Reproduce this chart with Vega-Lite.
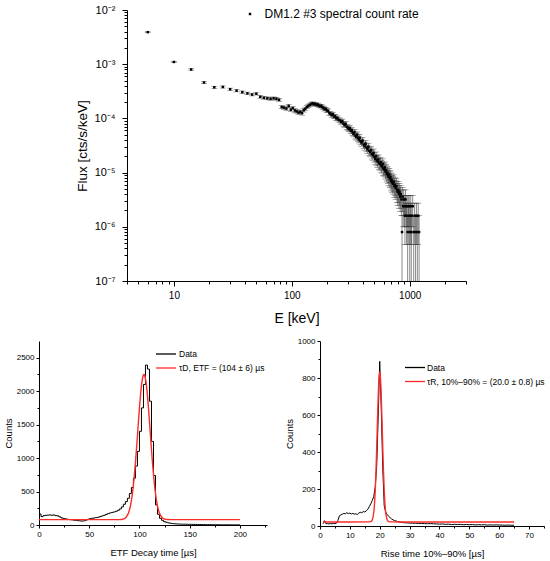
{
"$schema":"https://vega.github.io/schema/vega-lite/v6.json",
"padding":{"left":3,"top":4,"right":3,"bottom":3},
"config":{"font":"Liberation Sans","view":{"stroke":null},
"axis":{"domainColor":"black","tickColor":"black","labelColor":"black","titleColor":"black","grid":false,"titleFontWeight":"normal","labelFlush":false,"labelOverlap":false,"domainWidth":1,"tickWidth":1,"labelFont":"Liberation Sans","titleFont":"Liberation Sans"},
"legend":{"labelColor":"black","padding":0,"labelFont":"Liberation Sans","labelLimit":400}},
"spacing":12,
"resolve":{"scale":{"color":"independent"},"legend":{"color":"independent"}},
"vconcat":[
{"hconcat":[
{"width":16,"height":10,"data":{"values":[]},"mark":{"type":"point"}},
{"width":339,"height":271,"data":{"name":"spec"},
"resolve":{"scale":{"x":"independent","y":"independent"},"axis":{"x":"independent","y":"independent"}},
"layer":[
{"mark":{"type":"rule","color":"#3a3a3a","strokeWidth":0.6,"clip":true},
"encoding":{
"x":{"field":"E","type":"quantitative","scale":{"type":"log","domain":[4,3000],"nice":false},"axis":{"orient":"bottom","values":[10,100,1000],"format":"d","tickSize":5,"labelPadding":4,"labelFontSize":10,"title":"E [keV]","titleFontSize":14,"titlePadding":11}},
"y":{"field":"lo","type":"quantitative","scale":{"type":"log","domain":[1e-7,1e-2],"nice":false},"axis":{"orient":"left","values":[1e-7,1e-6,1e-5,1e-4,1e-3,1e-2],"labelExpr":"'10' + ['⁻²','⁻³','⁻⁴','⁻⁵','⁻⁶','⁻⁷'][-2 - round(log(datum.value)/LN10)]","tickSize":5,"labelPadding":7,"labelFontSize":11,"title":"Flux [cts/s/keV]","titleFontSize":13.5,"titlePadding":5}},
"y2":{"field":"hi"}}},
{"mark":{"type":"tick","orient":"horizontal","size":6,"thickness":0.6,"color":"#3a3a3a","clip":true},
"encoding":{"x":{"field":"E","type":"quantitative","scale":{"type":"log","domain":[4,3000],"nice":false},"axis":null},"y":{"field":"hi","type":"quantitative","scale":{"type":"log","domain":[1e-7,1e-2],"nice":false},"axis":null}}},
{"mark":{"type":"tick","orient":"horizontal","size":6,"thickness":0.6,"color":"#3a3a3a","clip":true},
"encoding":{"x":{"field":"E","type":"quantitative","scale":{"type":"log","domain":[4,3000],"nice":false},"axis":null},"y":{"field":"lo","type":"quantitative","scale":{"type":"log","domain":[1e-7,1e-2],"nice":false},"axis":null}}},
{"mark":{"type":"point","shape":"square","filled":true,"size":6,"opacity":1,"clip":true},
"encoding":{
"x":{"field":"E","type":"quantitative","scale":{"type":"log","domain":[4,3000],"nice":false},"axis":{"orient":"bottom","values":[4,5,6,7,8,9,20,30,40,50,60,70,80,90,200,300,400,500,600,700,800,900,2000,3000],"labels":false,"domain":false,"tickSize":3,"title":null}},
"y":{"field":"F","type":"quantitative","scale":{"type":"log","domain":[1e-7,1e-2],"nice":false},"axis":{"orient":"left","values":[2e-7,3e-7,4e-7,5e-7,6e-7,7e-7,8e-7,9e-7,2e-6,3e-6,4e-6,5e-6,6e-6,7e-6,8e-6,9e-6,2e-5,3e-5,4e-5,5e-5,6e-5,7e-5,8e-5,9e-5,2e-4,3e-4,4e-4,5e-4,6e-4,7e-4,8e-4,9e-4,2e-3,3e-3,4e-3,5e-3,6e-3,7e-3,8e-3,9e-3],"labels":false,"domain":false,"tickSize":3,"title":null}},
"color":{"datum":"DM1.2 #3 spectral count rate","scale":{"range":["black"]},"legend":{"orient":"none","legendX":117,"legendY":-2,"title":null,"labelFontSize":12,"symbolSize":6,"labelOffset":8.5}}}}
]}
],"spacing":20,"resolve":{"scale":{"color":"independent"},"legend":{"color":"independent"}}},
{"hconcat":[
{"width":228,"height":184,
"resolve":{"scale":{"x":"independent","y":"independent"},"axis":{"x":"independent","y":"independent"}},
"layer":[
{"data":{"name":"etf"},"mark":{"type":"line","interpolate":"step-after","strokeWidth":1,"clip":true},
"encoding":{
"x":{"field":"t","type":"quantitative","scale":{"domain":[0,227],"nice":false,"zero":false},"axis":{"orient":"bottom","values":[0,50,100,150,200],"format":"d","tickSize":3,"labelPadding":2,"labelFontSize":8,"title":"ETF Decay time [µs]","titleFontSize":9.5,"titlePadding":9}},
"y":{"field":"n","type":"quantitative","scale":{"domain":[0,2750],"nice":false},"axis":{"orient":"left","values":[0,500,1000,1500,2000,2500],"format":"d","tickSize":3,"labelPadding":2,"labelFontSize":8,"title":"Counts","titleFontSize":9.5,"titlePadding":3}},
"color":{"datum":"Data","scale":{"domain":["Data","τD, ETF = (104 ± 6) µs"],"range":["black","#ff2a2a"]},"legend":{"orient":"none","legendX":119,"legendY":5,"title":null,"labelFontSize":8.5,"symbolType":"M-1.43,0H1.43","symbolSize":196,"symbolStrokeWidth":1.3,"labelOffset":5,"rowPadding":1}}}},
{"data":{"name":"etffit"},"mark":{"type":"line","interpolate":"monotone","strokeWidth":1.4,"clip":true},
"encoding":{
"x":{"field":"t","type":"quantitative","scale":{"domain":[0,227],"nice":false,"zero":false},"axis":{"orient":"bottom","values":[25,75,125,175,225],"labels":false,"domain":false,"tickSize":2,"title":null}},
"y":{"field":"n","type":"quantitative","scale":{"domain":[0,2750],"nice":false},"axis":{"orient":"left","values":[250,750,1250,1750,2250],"labels":false,"domain":false,"tickSize":2,"title":null}},
"color":{"datum":"τD, ETF = (104 ± 6) µs"}}}
]},
{"width":224,"height":185,
"resolve":{"scale":{"x":"independent","y":"independent"},"axis":{"x":"independent","y":"independent"}},
"layer":[
{"data":{"name":"rise"},"mark":{"type":"line","strokeWidth":1,"clip":true},
"encoding":{
"x":{"field":"t","type":"quantitative","scale":{"domain":[0,75],"nice":false,"zero":false},"axis":{"orient":"bottom","values":[0,10,20,30,40,50,60,70],"format":"d","tickSize":3,"labelPadding":2,"labelFontSize":8,"title":"Rise time 10%–90% [µs]","titleFontSize":9.5,"titlePadding":9}},
"y":{"field":"n","type":"quantitative","scale":{"domain":[0,1000],"nice":false},"axis":{"orient":"left","values":[0,200,400,600,800,1000],"format":"d","tickSize":3,"labelPadding":2,"labelFontSize":8,"title":"Counts","titleFontSize":9.5,"titlePadding":3}},
"color":{"datum":"Data","scale":{"domain":["Data","τR, 10%–90% = (20.0 ± 0.8) µs"],"range":["black","#ff2a2a"]},"legend":{"orient":"none","legendX":87,"legendY":18.5,"title":null,"labelFontSize":8.5,"symbolType":"M-1.43,0H1.43","symbolSize":196,"symbolStrokeWidth":1.3,"labelOffset":4,"rowPadding":1}}}},
{"data":{"name":"risefit"},"mark":{"type":"line","interpolate":"monotone","strokeWidth":1.4,"clip":true},
"encoding":{
"x":{"field":"t","type":"quantitative","scale":{"domain":[0,75],"nice":false,"zero":false},"axis":{"orient":"bottom","values":[5,15,25,35,45,55,65,75],"labels":false,"domain":false,"tickSize":2,"title":null}},
"y":{"field":"n","type":"quantitative","scale":{"domain":[0,1000],"nice":false},"axis":{"orient":"left","values":[100,300,500,700,900],"labels":false,"domain":false,"tickSize":2,"title":null}},
"color":{"datum":"τR, 10%–90% = (20.0 ± 0.8) µs"}}}
]}
],"spacing":17,"resolve":{"scale":{"color":"independent"},"legend":{"color":"independent"}}}
],
"datasets":{
"spec":[
{"E":6,"F":3.9e-3,"lo":3.84e-3,"hi":3.96e-3},
{"E":10,"F":1.1e-3,"lo":1.07e-3,"hi":1.13e-3},
{"E":14,"F":8.0e-4,"lo":7.75e-4,"hi":8.25e-4},
{"E":18,"F":4.6e-4,"lo":4.41e-4,"hi":4.79e-4},
{"E":22,"F":3.75e-4,"lo":3.58e-4,"hi":3.92e-4},
{"E":26,"F":3.8e-4,"lo":3.63e-4,"hi":3.97e-4},
{"E":30,"F":3.45e-4,"lo":3.28e-4,"hi":3.62e-4},
{"E":34,"F":3.25e-4,"lo":3.09e-4,"hi":3.41e-4},
{"E":38,"F":3.05e-4,"lo":2.89e-4,"hi":3.21e-4},
{"E":42,"F":2.9e-4,"lo":2.75e-4,"hi":3.05e-4},
{"E":46,"F":2.75e-4,"lo":2.6e-4,"hi":2.9e-4},
{"E":50,"F":2.85e-4,"lo":2.7e-4,"hi":3.0e-4},
{"E":54,"F":2.5e-4,"lo":2.36e-4,"hi":2.64e-4},
{"E":58,"F":2.4e-4,"lo":2.26e-4,"hi":2.54e-4},
{"E":62,"F":2.35e-4,"lo":2.21e-4,"hi":2.49e-4},
{"E":66,"F":2.3e-4,"lo":2.16e-4,"hi":2.44e-4},
{"E":70,"F":2.35e-4,"lo":2.21e-4,"hi":2.49e-4},
{"E":74,"F":2.3e-4,"lo":2.16e-4,"hi":2.44e-4},
{"E":78,"F":2.2e-4,"lo":2.07e-4,"hi":2.33e-4},
{"E":82,"F":1.62e-4,"lo":1.51e-4,"hi":1.73e-4},
{"E":86,"F":1.58e-4,"lo":1.47e-4,"hi":1.69e-4},
{"E":90,"F":1.52e-4,"lo":1.41e-4,"hi":1.63e-4},
{"E":94,"F":1.7e-4,"lo":1.58e-4,"hi":1.82e-4},
{"E":98,"F":1.45e-4,"lo":1.34e-4,"hi":1.56e-4},
{"E":102,"F":1.55e-4,"lo":1.44e-4,"hi":1.66e-4},
{"E":106,"F":1.4e-4,"lo":1.29e-4,"hi":1.51e-4},
{"E":110,"F":1.35e-4,"lo":1.25e-4,"hi":1.45e-4},
{"E":114,"F":1.28e-4,"lo":1.18e-4,"hi":1.38e-4},
{"E":118,"F":1.32e-4,"lo":1.22e-4,"hi":1.42e-4},
{"E":122,"F":1.25e-4,"lo":1.15e-4,"hi":1.35e-4},
{"E":126,"F":1.42e-4,"lo":1.31e-4,"hi":1.53e-4},
{"E":130,"F":1.5e-4,"lo":1.39e-4,"hi":1.61e-4},
{"E":134,"F":1.62e-4,"lo":1.51e-4,"hi":1.73e-4},
{"E":138,"F":1.7e-4,"lo":1.58e-4,"hi":1.82e-4},
{"E":142,"F":1.78e-4,"lo":1.66e-4,"hi":1.9e-4},
{"E":146,"F":1.85e-4,"lo":1.73e-4,"hi":1.97e-4},
{"E":150,"F":1.9e-4,"lo":1.78e-4,"hi":2.02e-4},
{"E":154,"F":1.82e-4,"lo":1.7e-4,"hi":1.94e-4},
{"E":158,"F":1.86e-4,"lo":1.74e-4,"hi":1.98e-4},
{"E":162,"F":1.78e-4,"lo":1.66e-4,"hi":1.9e-4},
{"E":166,"F":1.8e-4,"lo":1.68e-4,"hi":1.92e-4},
{"E":170,"F":1.72e-4,"lo":1.6e-4,"hi":1.84e-4},
{"E":174,"F":1.68e-4,"lo":1.56e-4,"hi":1.8e-4},
{"E":178,"F":1.7e-4,"lo":1.58e-4,"hi":1.82e-4},
{"E":182,"F":1.6e-4,"lo":1.49e-4,"hi":1.71e-4},
{"E":186,"F":1.55e-4,"lo":1.44e-4,"hi":1.66e-4},
{"E":190,"F":1.48e-4,"lo":1.37e-4,"hi":1.59e-4},
{"E":194,"F":1.5e-4,"lo":1.39e-4,"hi":1.61e-4},
{"E":198,"F":1.4e-4,"lo":1.29e-4,"hi":1.51e-4},
{"E":203,"F":1.38e-4,"lo":1.28e-4,"hi":1.49e-4},
{"E":208,"F":1.25e-4,"lo":1.15e-4,"hi":1.35e-4},
{"E":213,"F":1.22e-4,"lo":1.12e-4,"hi":1.32e-4},
{"E":218,"F":1.15e-4,"lo":1.05e-4,"hi":1.25e-4},
{"E":223,"F":1.2e-4,"lo":1.1e-4,"hi":1.3e-4},
{"E":228,"F":1.08e-4,"lo":9.9e-5,"hi":1.17e-4},
{"E":233,"F":1.1e-4,"lo":1.01e-4,"hi":1.19e-4},
{"E":238,"F":1.0e-4,"lo":9.1e-5,"hi":1.09e-4},
{"E":243,"F":1.02e-4,"lo":9.3e-5,"hi":1.11e-4},
{"E":248,"F":9.5e-5,"lo":8.6e-5,"hi":1.04e-4},
{"E":256,"F":9.2e-5,"lo":8.3e-5,"hi":1.01e-4},
{"E":262,"F":8.6e-5,"lo":7.8e-5,"hi":9.4e-5},
{"E":268,"F":8.9e-5,"lo":8.1e-5,"hi":9.7e-5},
{"E":274,"F":8.0e-5,"lo":7.2e-5,"hi":8.8e-5},
{"E":280,"F":7.6e-5,"lo":6.8e-5,"hi":8.4e-5},
{"E":286,"F":7.9e-5,"lo":7.1e-5,"hi":8.7e-5},
{"E":292,"F":7.0e-5,"lo":6.25e-5,"hi":7.75e-5},
{"E":298,"F":6.8e-5,"lo":6.06e-5,"hi":7.54e-5},
{"E":304,"F":6.4e-5,"lo":5.68e-5,"hi":7.12e-5},
{"E":310,"F":6.6e-5,"lo":5.87e-5,"hi":7.33e-5},
{"E":316,"F":5.9e-5,"lo":5.21e-5,"hi":6.59e-5},
{"E":322,"F":6.1e-5,"lo":5.4e-5,"hi":6.8e-5},
{"E":328,"F":5.5e-5,"lo":4.84e-5,"hi":6.16e-5},
{"E":334,"F":5.2e-5,"lo":4.56e-5,"hi":5.84e-5},
{"E":340,"F":5.6e-5,"lo":4.93e-5,"hi":6.27e-5},
{"E":346,"F":4.8e-5,"lo":4.18e-5,"hi":5.42e-5},
{"E":352,"F":4.6e-5,"lo":3.99e-5,"hi":5.21e-5},
{"E":358,"F":5.0e-5,"lo":4.37e-5,"hi":5.63e-5},
{"E":364,"F":4.4e-5,"lo":3.81e-5,"hi":4.99e-5},
{"E":370,"F":4.1e-5,"lo":3.53e-5,"hi":4.67e-5},
{"E":376,"F":4.4e-5,"lo":3.81e-5,"hi":4.99e-5},
{"E":382,"F":3.8e-5,"lo":3.25e-5,"hi":4.35e-5},
{"E":390,"F":3.6e-5,"lo":3.06e-5,"hi":4.14e-5},
{"E":398,"F":3.9e-5,"lo":3.34e-5,"hi":4.46e-5},
{"E":406,"F":3.3e-5,"lo":2.79e-5,"hi":3.81e-5},
{"E":414,"F":3.1e-5,"lo":2.6e-5,"hi":3.6e-5},
{"E":422,"F":3.4e-5,"lo":2.88e-5,"hi":3.92e-5},
{"E":430,"F":2.9e-5,"lo":2.42e-5,"hi":3.38e-5},
{"E":438,"F":2.7e-5,"lo":2.24e-5,"hi":3.16e-5},
{"E":446,"F":3.0e-5,"lo":2.51e-5,"hi":3.49e-5},
{"E":454,"F":2.5e-5,"lo":2.05e-5,"hi":2.95e-5},
{"E":462,"F":2.4e-5,"lo":1.96e-5,"hi":2.84e-5},
{"E":470,"F":2.6e-5,"lo":2.14e-5,"hi":3.06e-5},
{"E":478,"F":2.2e-5,"lo":1.78e-5,"hi":2.62e-5},
{"E":486,"F":2.1e-5,"lo":1.69e-5,"hi":2.51e-5},
{"E":494,"F":2.3e-5,"lo":1.87e-5,"hi":2.73e-5},
{"E":502,"F":1.95e-5,"lo":1.56e-5,"hi":2.35e-5},
{"E":510,"F":1.8e-5,"lo":1.42e-5,"hi":2.18e-5},
{"E":518,"F":2.0e-5,"lo":1.6e-5,"hi":2.4e-5},
{"E":526,"F":1.7e-5,"lo":1.33e-5,"hi":2.07e-5},
{"E":534,"F":1.6e-5,"lo":1.24e-5,"hi":1.96e-5},
{"E":542,"F":1.75e-5,"lo":1.38e-5,"hi":2.12e-5},
{"E":550,"F":1.5e-5,"lo":1.15e-5,"hi":1.85e-5},
{"E":558,"F":1.45e-5,"lo":1.11e-5,"hi":1.79e-5},
{"E":566,"F":1.55e-5,"lo":1.2e-5,"hi":1.9e-5},
{"E":574,"F":1.35e-5,"lo":1.02e-5,"hi":1.68e-5},
{"E":582,"F":1.3e-5,"lo":9.8e-6,"hi":1.62e-5},
{"E":590,"F":1.45e-5,"lo":1.11e-5,"hi":1.79e-5},
{"E":598,"F":1.2e-5,"lo":8.9e-6,"hi":1.51e-5},
{"E":606,"F":1.15e-5,"lo":8.5e-6,"hi":1.45e-5},
{"E":614,"F":1.25e-5,"lo":9.3e-6,"hi":1.57e-5},
{"E":622,"F":1.05e-5,"lo":7.6e-6,"hi":1.34e-5},
{"E":630,"F":1.1e-5,"lo":8.0e-6,"hi":1.4e-5},
{"E":638,"F":9.5e-6,"lo":6.7e-6,"hi":1.23e-5},
{"E":646,"F":1.0e-5,"lo":7.2e-6,"hi":1.28e-5},
{"E":654,"F":9.0e-6,"lo":6.3e-6,"hi":1.17e-5},
{"E":662,"F":8.4e-6,"lo":5.8e-6,"hi":1.1e-5},
{"E":670,"F":9.2e-6,"lo":6.5e-6,"hi":1.19e-5},
{"E":678,"F":7.8e-6,"lo":5.3e-6,"hi":1.03e-5},
{"E":686,"F":8.2e-6,"lo":5.6e-6,"hi":1.08e-5},
{"E":694,"F":7.0e-6,"lo":4.6e-6,"hi":9.4e-6},
{"E":702,"F":7.4e-6,"lo":5.0e-6,"hi":9.8e-6},
{"E":710,"F":6.6e-6,"lo":4.3e-6,"hi":8.9e-6},
{"E":720,"F":6.2e-6,"lo":4.0e-6,"hi":8.4e-6},
{"E":730,"F":6.8e-6,"lo":4.5e-6,"hi":9.1e-6},
{"E":740,"F":5.6e-6,"lo":3.5e-6,"hi":7.7e-6},
{"E":750,"F":6.0e-6,"lo":3.8e-6,"hi":8.2e-6},
{"E":760,"F":5.2e-6,"lo":3.2e-6,"hi":7.2e-6},
{"E":770,"F":5.6e-6,"lo":3.5e-6,"hi":7.7e-6},
{"E":780,"F":4.8e-6,"lo":2.8e-6,"hi":6.8e-6},
{"E":790,"F":4.4e-6,"lo":2.5e-6,"hi":6.3e-6},
{"E":800,"F":4.8e-6,"lo":2.8e-6,"hi":6.8e-6},
{"E":810,"F":4.0e-6,"lo":2.2e-6,"hi":5.8e-6},
{"E":820,"F":4.4e-6,"lo":2.5e-6,"hi":6.3e-6},
{"E":830,"F":3.6e-6,"lo":1.9e-6,"hi":5.3e-6},
{"E":840,"F":4.0e-6,"lo":2.2e-6,"hi":5.8e-6},
{"E":850,"F":3.2e-6,"lo":1.6e-6,"hi":4.8e-6},
{"E":860,"F":8.0e-7,"lo":1e-9,"hi":1.6e-6},
{"E":870,"F":3.6e-6,"lo":1.9e-6,"hi":5.3e-6},
{"E":880,"F":2.4e-6,"lo":1.0e-6,"hi":3.8e-6},
{"E":890,"F":3.2e-6,"lo":1.6e-6,"hi":4.8e-6},
{"E":900,"F":2.4e-6,"lo":1.0e-6,"hi":3.8e-6},
{"E":910,"F":1.6e-6,"lo":4.7e-7,"hi":2.73e-6},
{"E":920,"F":3.2e-6,"lo":1.6e-6,"hi":4.8e-6},
{"E":930,"F":2.4e-6,"lo":1.0e-6,"hi":3.8e-6},
{"E":940,"F":1.6e-6,"lo":4.7e-7,"hi":2.73e-6},
{"E":950,"F":2.4e-6,"lo":1.0e-6,"hi":3.8e-6},
{"E":960,"F":8.0e-7,"lo":1e-9,"hi":1.6e-6},
{"E":970,"F":2.4e-6,"lo":1.0e-6,"hi":3.8e-6},
{"E":980,"F":1.6e-6,"lo":4.7e-7,"hi":2.73e-6},
{"E":990,"F":2.4e-6,"lo":1.0e-6,"hi":3.8e-6},
{"E":1000,"F":8.0e-7,"lo":1e-9,"hi":1.6e-6},
{"E":1010,"F":1.6e-6,"lo":4.7e-7,"hi":2.73e-6},
{"E":1020,"F":2.4e-6,"lo":1.0e-6,"hi":3.8e-6},
{"E":1030,"F":8.0e-7,"lo":1e-9,"hi":1.6e-6},
{"E":1040,"F":1.6e-6,"lo":4.7e-7,"hi":2.73e-6},
{"E":1060,"F":2.4e-6,"lo":1.0e-6,"hi":3.8e-6},
{"E":1080,"F":8.0e-7,"lo":1e-9,"hi":1.6e-6},
{"E":1100,"F":1.6e-6,"lo":4.7e-7,"hi":2.73e-6},
{"E":1120,"F":8.0e-7,"lo":1e-9,"hi":1.6e-6},
{"E":1140,"F":1.6e-6,"lo":4.7e-7,"hi":2.73e-6},
{"E":1160,"F":8.0e-7,"lo":1e-9,"hi":1.6e-6},
{"E":1180,"F":1.6e-6,"lo":4.7e-7,"hi":2.73e-6},
{"E":1200,"F":8.0e-7,"lo":1e-9,"hi":1.6e-6}
],
"etf":[
{"t":0,"n":165},{"t":2,"n":125},{"t":4,"n":140},{"t":6,"n":145},{"t":8,"n":148},{"t":10,"n":150},{"t":12,"n":146},{"t":14,"n":150},{"t":16,"n":140},{"t":18,"n":136},
{"t":20,"n":120},{"t":22,"n":105},{"t":24,"n":95},{"t":26,"n":90},{"t":28,"n":85},{"t":30,"n":80},{"t":32,"n":78},{"t":34,"n":72},{"t":36,"n":70},{"t":38,"n":65},
{"t":40,"n":62},{"t":42,"n":58},{"t":44,"n":62},{"t":46,"n":72},{"t":48,"n":85},{"t":50,"n":95},{"t":52,"n":100},{"t":54,"n":105},{"t":56,"n":110},{"t":58,"n":115},
{"t":60,"n":125},{"t":62,"n":135},{"t":64,"n":145},{"t":66,"n":158},{"t":68,"n":170},{"t":70,"n":180},{"t":72,"n":188},{"t":74,"n":195},{"t":76,"n":205},{"t":78,"n":220},
{"t":80,"n":240},{"t":82,"n":270},{"t":84,"n":310},{"t":86,"n":350},{"t":88,"n":400},{"t":90,"n":470},{"t":92,"n":560},{"t":94,"n":700},{"t":96,"n":880},{"t":98,"n":1100},
{"t":100,"n":1400},{"t":102,"n":1750},{"t":104,"n":2100},{"t":106,"n":2390},{"t":108,"n":2330},{"t":110,"n":1850},{"t":112,"n":1250},{"t":114,"n":740},{"t":116,"n":300},{"t":118,"n":160},
{"t":120,"n":100},{"t":122,"n":70},{"t":124,"n":50},{"t":126,"n":40},{"t":128,"n":32},{"t":130,"n":26},{"t":132,"n":22},{"t":134,"n":19},{"t":136,"n":16},{"t":138,"n":15},
{"t":140,"n":13},{"t":142,"n":12},{"t":144,"n":12},{"t":146,"n":11},{"t":148,"n":10},{"t":150,"n":10},{"t":152,"n":9},{"t":154,"n":9},{"t":156,"n":8},{"t":158,"n":8},
{"t":160,"n":7},{"t":162,"n":6},{"t":164,"n":6},{"t":166,"n":5},{"t":168,"n":5},{"t":170,"n":5},{"t":172,"n":4},{"t":174,"n":4},{"t":176,"n":4},{"t":178,"n":4},
{"t":180,"n":3},{"t":182,"n":3},{"t":184,"n":3},{"t":186,"n":3},{"t":188,"n":3},{"t":190,"n":2},{"t":192,"n":2},{"t":194,"n":2},{"t":196,"n":2},{"t":198,"n":2},{"t":200,"n":2}
],
"etffit":[
{"t":0,"n":80},{"t":40,"n":80},{"t":70,"n":80},{"t":78,"n":80.2},{"t":82,"n":83},{"t":85,"n":95},{"t":88,"n":143},{"t":90,"n":221},{"t":92,"n":365},{"t":93,"n":468},{"t":94,"n":597},{"t":95,"n":751},
{"t":96,"n":928},{"t":97,"n":1124},{"t":98,"n":1332},{"t":99,"n":1544},{"t":100,"n":1747},{"t":101,"n":1930},{"t":102,"n":2080},{"t":103,"n":2187},{"t":104,"n":2243},{"t":104.5,"n":2250},
{"t":105,"n":2243},{"t":106,"n":2187},{"t":107,"n":2080},{"t":108,"n":1930},{"t":109,"n":1747},{"t":110,"n":1544},{"t":111,"n":1332},{"t":112,"n":1124},{"t":113,"n":928},{"t":114,"n":751},
{"t":115,"n":597},{"t":116,"n":468},{"t":117,"n":365},{"t":118,"n":283},{"t":119,"n":221},{"t":120,"n":175},{"t":122,"n":120},{"t":124,"n":95},{"t":126,"n":85},{"t":128,"n":82},{"t":132,"n":80},{"t":160,"n":80},{"t":200,"n":80}
],
"rise":[
{"t":1.0,"n":12},{"t":1.5,"n":29},{"t":2.0,"n":12},{"t":2.5,"n":13},{"t":3.0,"n":11},{"t":3.5,"n":13},{"t":4.0,"n":12},{"t":4.5,"n":14},{"t":5.0,"n":13},{"t":5.5,"n":15},
{"t":6.0,"n":30},{"t":6.5,"n":55},{"t":7.0,"n":60},{"t":7.5,"n":64},{"t":8.0,"n":68},{"t":8.5,"n":66},{"t":9.0,"n":72},{"t":9.5,"n":67},{"t":10.0,"n":70},{"t":10.5,"n":65},
{"t":11.0,"n":68},{"t":11.5,"n":64},{"t":12.0,"n":66},{"t":12.5,"n":62},{"t":13.0,"n":70},{"t":13.5,"n":74},{"t":14.0,"n":72},{"t":14.5,"n":78},{"t":15.0,"n":76},{"t":15.5,"n":82},
{"t":16.0,"n":90},{"t":16.5,"n":105},{"t":17.0,"n":120},{"t":17.5,"n":138},{"t":18.0,"n":160},{"t":18.5,"n":210},{"t":19.0,"n":330},{"t":19.5,"n":600},{"t":20.0,"n":890},{"t":20.5,"n":640},
{"t":21.0,"n":320},{"t":21.5,"n":110},{"t":22.0,"n":75},{"t":22.5,"n":62},{"t":23.0,"n":52},{"t":23.5,"n":45},{"t":24.0,"n":38},{"t":24.5,"n":33},{"t":25.0,"n":29},{"t":25.5,"n":27},
{"t":26,"n":24},{"t":27,"n":21},{"t":28,"n":18},{"t":29,"n":17},{"t":30,"n":16},{"t":31,"n":15},{"t":32,"n":15},{"t":33,"n":14},{"t":34,"n":14},{"t":35,"n":13},
{"t":36,"n":12},{"t":37,"n":13},{"t":38,"n":12},{"t":39,"n":11},{"t":40,"n":10},{"t":41,"n":11},{"t":42,"n":9},{"t":43,"n":10},{"t":44,"n":8},{"t":45,"n":9},
{"t":46,"n":8},{"t":47,"n":9},{"t":48,"n":7},{"t":49,"n":8},{"t":50,"n":7},{"t":51,"n":8},{"t":52,"n":6},{"t":53,"n":7},{"t":54,"n":6},{"t":55,"n":7},
{"t":56,"n":5},{"t":57,"n":6},{"t":58,"n":5},{"t":59,"n":6},{"t":60,"n":5},{"t":61,"n":5},{"t":62,"n":4},{"t":63,"n":5},{"t":64,"n":4},{"t":65,"n":4}
],
"risefit":[
{"t":1,"n":22},{"t":10,"n":22},{"t":16,"n":22.1},{"t":17,"n":23.6},{"t":17.5,"n":33},{"t":18,"n":73},{"t":18.25,"n":119},{"t":18.5,"n":193},{"t":18.75,"n":297},{"t":19,"n":428},{"t":19.25,"n":572},{"t":19.5,"n":704},{"t":19.75,"n":799},
{"t":20,"n":833},{"t":20.25,"n":799},{"t":20.5,"n":704},{"t":20.75,"n":572},{"t":21,"n":428},{"t":21.25,"n":297},{"t":21.5,"n":193},{"t":21.75,"n":119},{"t":22,"n":73},{"t":22.5,"n":33},{"t":23,"n":23.6},{"t":24,"n":22.1},{"t":30,"n":22},{"t":65,"n":22}
]
}
}
